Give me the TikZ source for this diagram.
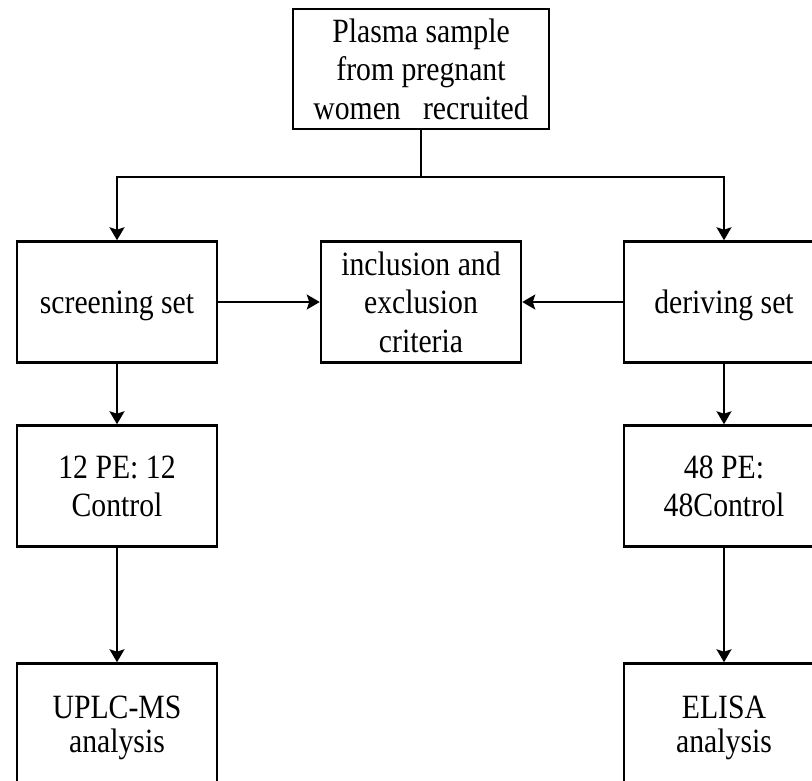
\documentclass[tikz,border=0pt]{standalone}
\usepackage{fontspec}
\setmainfont{Liberation Serif}[FakeStretch=0.874]
\usetikzlibrary{arrows.meta}
\begin{document}
\begin{tikzpicture}[x=1pt,y=-1pt,
  box/.style={draw, line width=2.5pt, minimum width=200pt, minimum height=121pt,
    align=center, inner sep=0pt, text depth=0pt, font=\fontsize{34}{38.5}\selectfont},
  conn/.style={line width=2pt, -{Stealth[inset=2.5pt,width=15pt,length=13pt]}},
  plain/.style={line width=2pt}]
\useasboundingbox (0,0) rectangle (812,780);
\clip (0,0) rectangle (812,780);
\node[box, minimum width=256pt, minimum height=120pt] (top) at (421,69)
  {Plasma sample\\from pregnant\\women~~~recruited};
\node[box] (screen) at (117,302) {screening set};
\node[box] (incl) at (421,302) {inclusion and\\exclusion\\criteria};
\node[box] (deriv) at (724,302) {deriving set};
\node[box] (pe12) at (117,486) {12 PE: 12\\Control};
\node[box] (pe48) at (724,486) {48 PE:\\48Control};
\node[box, font=\fontsize{34}{34.5}\selectfont] (uplc) at (117,724) {UPLC-MS\\analysis};
\node[box, font=\fontsize{34}{34.5}\selectfont] (elisa) at (724,724) {ELISA\\analysis};
\coordinate (split) at (421,177);
\draw[plain] (top.south) -- (split);
\draw[conn] (split) -| (screen.north);
\draw[conn] (split) -| (deriv.north);
\draw[conn] (screen.east) -- (incl.west);
\draw[conn] (deriv.west) -- (incl.east);
\draw[conn] (screen.south) -- (pe12.north);
\draw[conn] (deriv.south) -- (pe48.north);
\draw[conn] (pe12.south) -- (uplc.north);
\draw[conn] (pe48.south) -- (elisa.north);
\end{tikzpicture}
\end{document}
